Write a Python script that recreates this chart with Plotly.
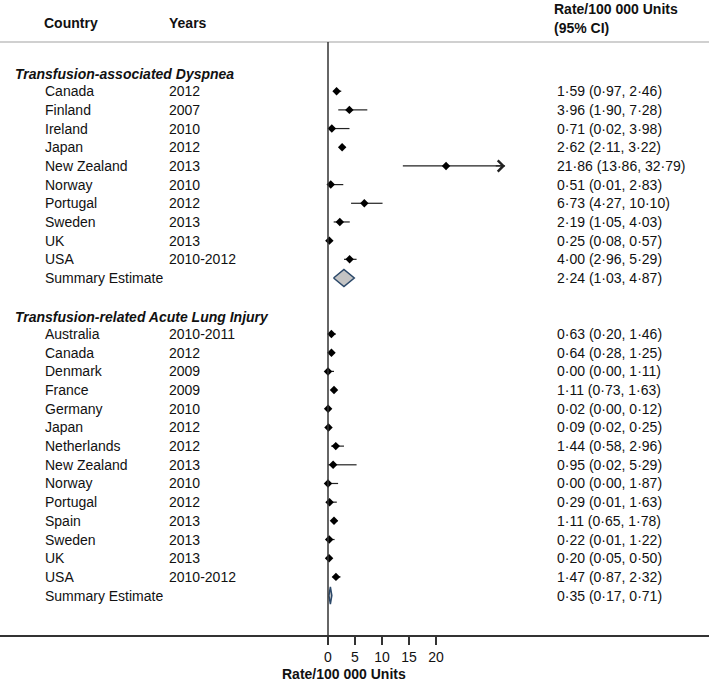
import plotly.graph_objects as go

# ---------------- data ----------------
tad_countries = ["Canada", "Finland", "Ireland", "Japan", "New Zealand", "Norway",
                 "Portugal", "Sweden", "UK", "USA"]
tad_years = ["2012", "2007", "2010", "2012", "2013", "2010", "2012", "2013", "2013", "2010-2012"]
tad_est = [1.59, 3.96, 0.71, 2.62, 21.86, 0.51, 6.73, 2.19, 0.25, 4.00]
tad_lo = [0.97, 1.90, 0.02, 2.11, 13.86, 0.01, 4.27, 1.05, 0.08, 2.96]
tad_hi = [2.46, 7.28, 3.98, 3.22, 32.79, 2.83, 10.10, 4.03, 0.57, 5.29]
tad_summary = [2.24, 1.03, 4.87]

trali_countries = ["Australia", "Canada", "Denmark", "France", "Germany", "Japan", "Netherlands",
                   "New Zealand", "Norway", "Portugal", "Spain", "Sweden", "UK", "USA"]
trali_years = ["2010-2011", "2012", "2009", "2009", "2010", "2012", "2012", "2013", "2010",
               "2012", "2013", "2013", "2013", "2010-2012"]
trali_est = [0.63, 0.64, 0.00, 1.11, 0.02, 0.09, 1.44, 0.95, 0.00, 0.29, 1.11, 0.22, 0.20, 1.47]
trali_lo = [0.20, 0.28, 0.00, 0.73, 0.00, 0.02, 0.58, 0.02, 0.00, 0.01, 0.65, 0.01, 0.05, 0.87]
trali_hi = [1.46, 1.25, 1.11, 1.63, 0.12, 0.25, 2.96, 5.29, 1.87, 1.63, 1.78, 1.22, 0.50, 2.32]
trali_summary = [0.35, 0.17, 0.71]

group_titles = ["Transfusion-associated Dyspnea", "Transfusion-related Acute Lung Injury"]
tick_vals = [0, 5, 10, 15, 20]
axis_title = "Rate/100 000 Units"
ci_header = ["Rate/100 000 Units", "(95% CI)"]
col_headers = ["Country", "Years"]

# ---------------- layout constants ----------------
W, H = 709, 685
PLOT_BOTTOM = 635
ROW0, ROWH = 91.2, 18.68
PX_PER_UNIT = 5.4
ZERO_PX = 328
FONT = "Liberation Sans, Arial, sans-serif"
FS = 14
TXT = "#111111"


def fmt(v):
    return f"{v:.2f}".replace(".", "\u00b7")


def px_paper_y(py):
    return (PLOT_BOTTOM - py) / PLOT_BOTTOM


def txt(x_px, y, text, yref="y", anchor="left"):
    return dict(x=x_px / W, xref="paper", y=y, yref=yref, text=text, showarrow=False,
                xanchor=anchor, yanchor="middle", font=dict(family=FONT, size=FS, color=TXT))


fig = go.Figure()
annotations = []

groups = [
    (group_titles[0], tad_countries, tad_years, tad_est, tad_lo, tad_hi, tad_summary, 0),
    (group_titles[1], trali_countries, trali_years, trali_est, trali_lo, trali_hi, trali_summary, 13),
]

for title, ctry, yrs, est, lo, hi, summ, start in groups:
    rows = [start + i for i in range(len(ctry))]
    srow = start + len(ctry)
    annotations.append(txt(13, start - 0.9, f"<b><i>{title}</i></b>"))
    for r, c, yy, e, l, h in zip(rows, ctry, yrs, est, lo, hi):
        annotations.append(txt(43, r, c))
        annotations.append(txt(167, r, yy))
        annotations.append(txt(555, r, f"{fmt(e)} ({fmt(l)}, {fmt(h)})"))
    fig.add_trace(go.Scatter(
        x=est, y=rows, mode="markers",
        marker=dict(symbol="diamond", size=6.5, color="black"),
        error_x=dict(type="data", symmetric=False,
                     array=[h - e for e, h in zip(est, hi)],
                     arrayminus=[e - l for e, l in zip(est, lo)],
                     color="#222222", thickness=1.2, width=0),
        showlegend=False, hoverinfo="skip"))
    # summary diamond (drawn symmetric between the CI limits, as in the source figure)
    se, sl, sh = summ
    mid = (sl + sh) / 2
    fig.add_trace(go.Scatter(
        x=[sl, mid, sh, mid, sl], y=[srow, srow - 0.46, srow, srow + 0.46, srow],
        mode="lines", fill="toself", fillcolor="#c4c4c4",
        line=dict(color="#2b4869", width=1.5), showlegend=False, hoverinfo="skip"))
    annotations.append(txt(43, srow, "Summary Estimate"))
    annotations.append(txt(555, srow, f"{fmt(se)} ({fmt(sl)}, {fmt(sh)})"))
    # arrow for truncated CI
    for r, e, h in zip(rows, est, hi):
        if h > 20:
            annotations.append(dict(x=h, y=r, xref="x", yref="y", ax=h - 2, ay=r, axref="x", ayref="y",
                                    text="", showarrow=True, arrowhead=4, arrowsize=1.8, arrowwidth=1.2,
                                    arrowcolor="#222222"))

# headers
annotations.append(txt(42, px_paper_y(23), f"<b>{col_headers[0]}</b>", yref="paper"))
annotations.append(txt(167, px_paper_y(23), f"<b>{col_headers[1]}</b>", yref="paper"))
annotations.append(txt(552, px_paper_y(9), f"<b>{ci_header[0]}</b>", yref="paper"))
annotations.append(txt(552, px_paper_y(28), f"<b>{ci_header[1]}</b>", yref="paper"))
annotations.append(txt(344, px_paper_y(674), f"<b>{axis_title}</b>", yref="paper", anchor="center"))

shapes = [
    dict(type="line", xref="paper", yref="paper", x0=0, x1=1, y0=px_paper_y(42), y1=px_paper_y(42),
         line=dict(color="#c0c0c0", width=1.5)),
    dict(type="line", xref="x", yref="paper", x0=0, x1=0, y0=0, y1=px_paper_y(42),
         line=dict(color="#333333", width=1.5)),
]

x_lo = -ZERO_PX / PX_PER_UNIT
x_hi = (W - ZERO_PX) / PX_PER_UNIT
k_top = (0 - ROW0) / ROWH
k_bot = (PLOT_BOTTOM - ROW0) / ROWH

fig.update_layout(
    width=W, height=H, margin=dict(l=0, r=0, t=0, b=H - PLOT_BOTTOM, pad=0),
    paper_bgcolor="white", plot_bgcolor="white",
    xaxis=dict(range=[x_lo, x_hi], showgrid=False, zeroline=False, showline=True,
               linecolor="#333333", linewidth=1.5, ticks="outside", ticklen=8, tickwidth=1.5,
               tickcolor="#333333", tickvals=tick_vals, ticktext=[str(v) for v in tick_vals],
               tickfont=dict(family=FONT, size=FS, color=TXT)),
    yaxis=dict(range=[k_bot, k_top], visible=False, showgrid=False, zeroline=False),
    annotations=annotations, shapes=shapes, showlegend=False,
)

# remove the browser's default 8px body margin so the figure sits at the page origin
fig.write_html("out.html", config={"displayModeBar": False},
               post_script="document.body.style.margin='0';document.body.style.overflow='hidden';")
